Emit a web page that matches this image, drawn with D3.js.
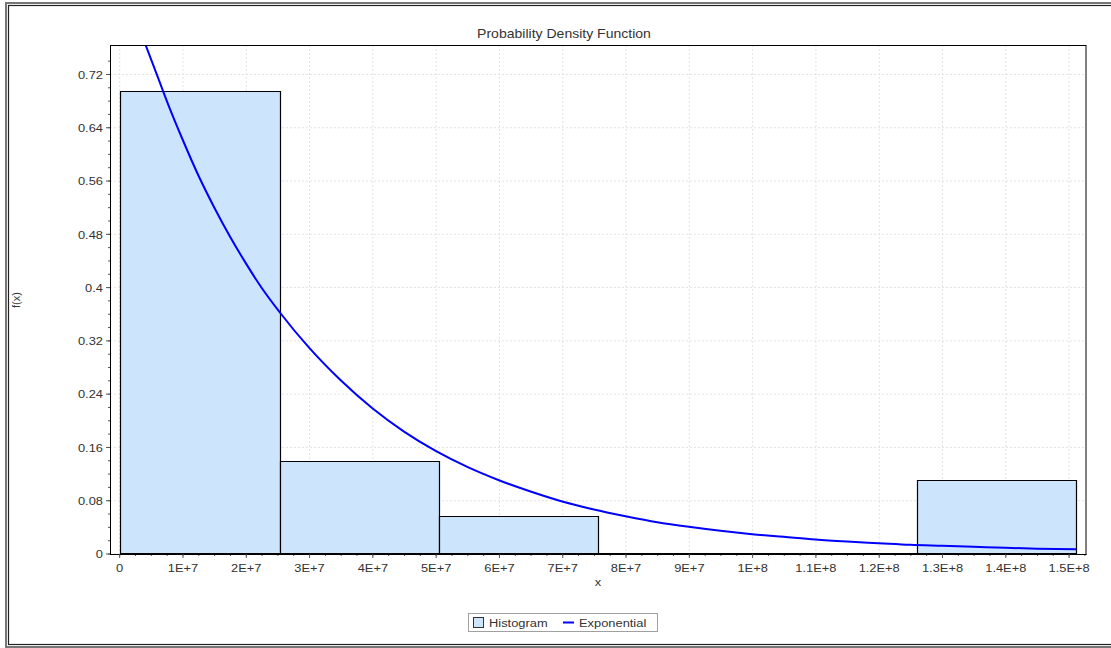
<!DOCTYPE html>
<html lang="en">
<head>
<meta charset="UTF-8">
<title>Probability Density Function</title>
<script src="https://d3js.org/d3.v7.min.js"></script>
<style>
  body { margin: 0; background: #fff; }
  text { font-family: "Liberation Sans", Arial, sans-serif; fill: #333; }
  .grid line { stroke: #e2e2e2; stroke-dasharray: 2,2; }
  .grid path { display: none; }
  .minor path { display: none; }
  .minor line, .axis line { stroke: #555; }
  .axis path { stroke: #000; }
  .bar { fill: #cce4fc; stroke: #000; stroke-width: 1.2; }
  .curve { fill: none; stroke: #0000ff; stroke-width: 2; }
</style>
</head>
<body>
<div id="chart"></div>
<script>
// histogram: bin edges on x and relative frequency per bin
var binEdges = [1.74e5, 2.534e7, 5.05e7, 7.57e7, 1.0083e8, 1.26e8, 1.512e8];
var binHeights = [0.694, 0.139, 0.056, 0, 0, 0.111];

// exponential fit
var expX = [4.2e6, 6e6, 8e6, 1e7, 1.25e7, 1.5e7, 1.75e7, 2e7, 2.25e7, 2.53e7,
            3e7, 3.5e7, 4e7, 4.5e7, 5e7, 5.5e7, 6e7, 6.5e7, 7e7, 7.5e7,
            8e7, 8.5e7, 9e7, 9.5e7, 1e8, 1.05e8, 1.1e8, 1.15e8, 1.2e8, 1.25e8,
            1.3e8, 1.35e8, 1.4e8, 1.45e8, 1.512e8];
var expY = [0.763, 0.718, 0.668, 0.622, 0.568, 0.520, 0.476, 0.436, 0.399, 0.363,
            0.309, 0.260, 0.218, 0.183, 0.154, 0.130, 0.110, 0.093, 0.078, 0.066,
            0.056, 0.047, 0.040, 0.034, 0.029, 0.025, 0.021, 0.018, 0.0155, 0.013,
            0.0115, 0.010, 0.0085, 0.0073, 0.0063];

var xTicks = [0, 1e7, 2e7, 3e7, 4e7, 5e7, 6e7, 7e7, 8e7, 9e7, 1e8, 1.1e8, 1.2e8, 1.3e8, 1.4e8, 1.5e8];
var yTicks = [0, 0.08, 0.16, 0.24, 0.32, 0.4, 0.48, 0.56, 0.64, 0.72];
var xDomain = [-1.45e6, 1.5275e8];
var yDomain = [0, 0.7635];

var W = 1111, H = 648;
var pLeft = 110, pRight = 1086, pTop = 45, pBottom = 553.5;
var sx = 1.17; // the source render is a bit wide

var svg = d3.select("#chart").append("svg")
    .attr("width", W).attr("height", H);

// double outer frame
svg.append("rect").attr("x", 6).attr("y", 3).attr("width", 1120).attr("height", 644)
    .attr("fill", "none").attr("stroke", "#777").attr("stroke-width", 2);
svg.append("rect").attr("x", 8.5).attr("y", 5.5).attr("width", 1115).attr("height", 639)
    .attr("fill", "none").attr("stroke", "#222").attr("stroke-width", 1.2);

var x = d3.scaleLinear().domain(xDomain).range([pLeft, pRight]);
var y = d3.scaleLinear().domain(yDomain).range([pBottom, pTop]);

function fmtX(v) {
  if (v === 0) return "0";
  var e = Math.floor(Math.log10(v) + 1e-9);
  return (+(v / Math.pow(10, e)).toFixed(2)) + "E+" + e;
}
function fmtY(v) { return String(+v.toFixed(2)); }

// grid
svg.append("g").attr("class", "grid")
    .attr("transform", "translate(0," + pTop + ")")
    .call(d3.axisBottom(x).tickValues(xTicks).tickSize(pBottom - pTop).tickFormat(""));
svg.append("g").attr("class", "grid")
    .attr("transform", "translate(" + pLeft + ",0)")
    .call(d3.axisRight(y).tickValues(yTicks).tickSize(pRight - pLeft).tickFormat(""));

svg.append("clipPath").attr("id", "plotclip")
  .append("rect").attr("x", pLeft).attr("y", pTop)
    .attr("width", pRight - pLeft).attr("height", pBottom - pTop + 1);

// histogram bars (paths so empty bins still show as a line)
var bins = binHeights.map(function(h, i) { return {x0: binEdges[i], x1: binEdges[i + 1], h: h}; });
svg.append("g").selectAll("path").data(bins).enter().append("path")
    .attr("class", "bar")
    .attr("d", function(d) {
      var x0 = Math.round(x(d.x0)) + 0.5, x1 = Math.round(x(d.x1)) + 0.5;
      var y0 = Math.round(y(0)) - 0.5, y1 = Math.round(y(d.h)) + 0.5;
      return "M" + x0 + "," + y0 + "V" + y1 + "H" + x1 + "V" + y0 + "Z";
    });

// exponential curve
var pts = expX.map(function(v, i) { return [v, expY[i]]; });
svg.append("path").datum(pts)
    .attr("class", "curve")
    .attr("clip-path", "url(#plotclip)")
    .attr("d", d3.line().x(function(d) { return x(d[0]); }).y(function(d) { return y(d[1]); })
      .curve(d3.curveMonotoneX));

// plot border (top/right)
svg.append("rect").attr("x", pLeft + 0.5).attr("y", pTop + 0.5)
    .attr("width", pRight - pLeft - 0.5).attr("height", pBottom - pTop + 0.5)
    .attr("fill", "none").attr("stroke", "#000");

// minor ticks
svg.append("g").attr("class", "minor")
    .attr("transform", "translate(0," + (pBottom + 0.5) + ")")
    .call(d3.axisBottom(x).tickValues(d3.range(0, 1.526e8, 2.5e6)).tickSize(2).tickFormat(""));
svg.append("g").attr("class", "minor")
    .attr("transform", "translate(" + pLeft + ",0)")
    .call(d3.axisLeft(y).tickValues(d3.range(0, 0.76, 0.02)).tickSize(2).tickFormat(""));

// major axes
var xAxis = svg.append("g").attr("class", "axis")
    .attr("transform", "translate(0," + (pBottom + 0.5) + ")")
    .call(d3.axisBottom(x).tickValues(xTicks).tickFormat(fmtX).tickSize(4).tickSizeOuter(0).tickPadding(6));
xAxis.selectAll("text").attr("font-size", 11).attr("fill", "#333")
    .attr("font-family", "Liberation Sans, Arial, sans-serif")
    .attr("transform", "scale(" + sx + ",1)");

var yAxis = svg.append("g").attr("class", "axis")
    .attr("transform", "translate(" + pLeft + ",0)")
    .call(d3.axisLeft(y).tickValues(yTicks).tickFormat(fmtY).tickSize(4).tickSizeOuter(0));
yAxis.selectAll("text").attr("font-size", 11).attr("fill", "#333")
    .attr("font-family", "Liberation Sans, Arial, sans-serif")
    .attr("x", -7 / sx).attr("dy", "0.38em")
    .attr("transform", "scale(" + sx + ",1)");

// titles
svg.append("text").attr("transform", "translate(564,38) scale(" + sx + ",1)")
    .attr("text-anchor", "middle").attr("font-size", 12).attr("fill", "#222")
    .text("Probability Density Function");
svg.append("text").attr("transform", "translate(598,586) scale(" + sx + ",1)")
    .attr("text-anchor", "middle").attr("font-size", 11)
    .text("x");
svg.append("text").attr("transform", "translate(20,300) rotate(-90)")
    .attr("text-anchor", "middle").attr("font-size", 11)
    .text("f(x)");

// legend
var lg = svg.append("g");
lg.append("rect").attr("x", 468.5).attr("y", 613.5).attr("width", 189).attr("height", 18)
    .attr("fill", "#fff").attr("stroke", "#a0a0a0");
lg.append("rect").attr("x", 473.5).attr("y", 617.5).attr("width", 10).attr("height", 10)
    .attr("fill", "#cce4fc").attr("stroke", "#333");
lg.append("text").attr("transform", "translate(489,627) scale(" + sx + ",1)")
    .attr("font-size", 11).text("Histogram");
lg.append("line").attr("x1", 563).attr("x2", 574).attr("y1", 622.5).attr("y2", 622.5)
    .attr("stroke", "#0000ff").attr("stroke-width", 2);
lg.append("text").attr("transform", "translate(579,627) scale(" + sx + ",1)")
    .attr("font-size", 11).text("Exponential");
</script>
</body>
</html>
